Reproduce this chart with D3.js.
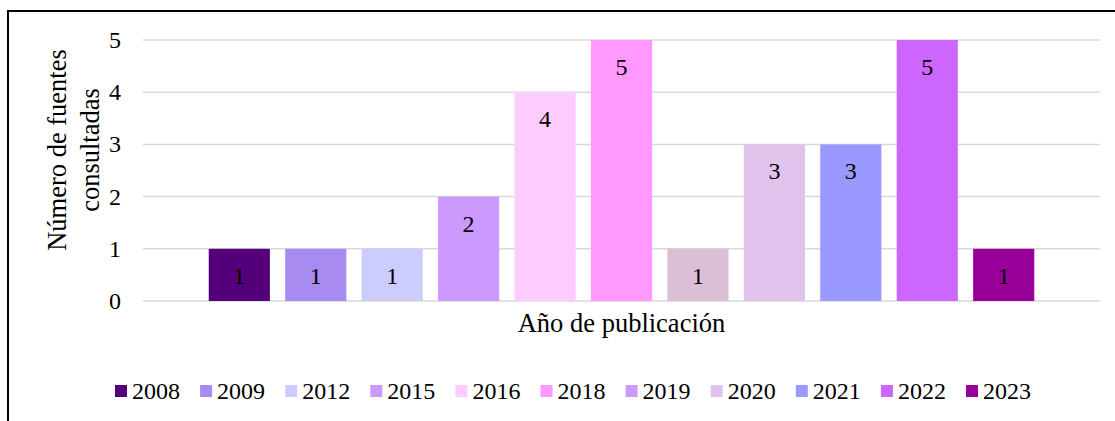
<!DOCTYPE html>
<html>
<head>
<meta charset="utf-8">
<script src="https://cdn.jsdelivr.net/npm/d3@7"></script>
<style>
  body { margin: 0; background: #fff; }
  text { font-family: "Liberation Serif", "Times New Roman", serif; fill: #000; }
</style>
</head>
<body>
<div id="chart"></div>
<script>
// datos del gráfico
const years = ["2008", "2009", "2012", "2015", "2016", "2018", "2019", "2020", "2021", "2022", "2023"];
const counts = [1, 1, 1, 2, 4, 5, 1, 3, 3, 5, 1];
const barColors = ["#53007A", "#A78BF0", "#CCCCFF", "#CC99FF", "#FFCCFF", "#FF99FF", "#DABFD7", "#E0C2EC", "#9999FF", "#CC66FF", "#990099"];
const legendColors = ["#53007A", "#A78BF0", "#CCCCFF", "#CC99FF", "#FFCCFF", "#FF99FF", "#CC99FF", "#E0C2EC", "#9999FF", "#CC66FF", "#990099"];
const yTicks = [0, 1, 2, 3, 4, 5];
const yTitle = ["Número de fuentes", "consultadas"];
const xTitle = "Año de publicación";

const width = 1115, height = 421;
const plot = { left: 143, right: 1100, top: 40, bottom: 301 };

const svg = d3.select("#chart").append("svg")
  .attr("width", width)
  .attr("height", height);

// marco (se sale de la imagen por la derecha y abajo)
svg.append("rect")
  .attr("x", 8).attr("y", 11)
  .attr("width", 1200).attr("height", 500)
  .attr("fill", "none")
  .attr("stroke", "#000")
  .attr("stroke-width", 2);

const y = d3.scaleLinear().domain([0, 5]).range([plot.bottom, plot.top]);

// una sola categoría con 11 series
const x = d3.scaleBand()
  .domain(years)
  .range([plot.left, plot.right])
  .paddingInner(0.2)
  .paddingOuter(0.86);

// líneas de cuadrícula
svg.append("g")
  .selectAll("line")
  .data(yTicks)
  .join("line")
  .attr("x1", plot.left)
  .attr("x2", plot.right)
  .attr("y1", d => y(d))
  .attr("y2", d => y(d))
  .attr("stroke", "#d9d9d9")
  .attr("stroke-width", 1.5);

// etiquetas del eje y
svg.append("g")
  .selectAll("text")
  .data(yTicks)
  .join("text")
  .attr("x", 121)
  .attr("y", d => y(d) + 8)
  .attr("text-anchor", "end")
  .attr("font-size", "24px")
  .text(d => d);

// barras
svg.append("g")
  .selectAll("rect")
  .data(years)
  .join("rect")
  .attr("x", d => x(d))
  .attr("y", (d, i) => y(counts[i]))
  .attr("width", x.bandwidth())
  .attr("height", (d, i) => y(0) - y(counts[i]))
  .attr("fill", (d, i) => barColors[i]);

// valores dentro de las barras
svg.append("g")
  .selectAll("text")
  .data(years)
  .join("text")
  .attr("x", d => x(d) + x.bandwidth() / 2)
  .attr("y", (d, i) => y(counts[i]) + 35)
  .attr("text-anchor", "middle")
  .attr("font-size", "24px")
  .text((d, i) => counts[i]);

// título eje y
const yt = svg.append("text")
  .attr("transform", "translate(66,150) rotate(-90)")
  .attr("text-anchor", "middle")
  .attr("font-size", "26.5px");
yTitle.forEach((line, i) => {
  yt.append("tspan")
    .attr("x", 0)
    .attr("dy", i === 0 ? 0 : 33)
    .text(line);
});

// título eje x
svg.append("text")
  .attr("x", (x(years[0]) + x(years[years.length - 1]) + x.bandwidth()) / 2)
  .attr("y", 332)
  .attr("text-anchor", "middle")
  .attr("font-size", "26.5px")
  .text(xTitle);

// leyenda
const legend = svg.append("g")
  .attr("transform", "translate(115,385)");
const item = legend.selectAll("g")
  .data(years)
  .join("g")
  .attr("transform", (d, i) => `translate(${i * 85.1},0)`);
item.append("rect")
  .attr("width", 12)
  .attr("height", 12)
  .attr("fill", (d, i) => legendColors[i]);
item.append("text")
  .attr("x", 17)
  .attr("y", 14)
  .attr("font-size", "24px")
  .text(d => d);
</script>
</body>
</html>
